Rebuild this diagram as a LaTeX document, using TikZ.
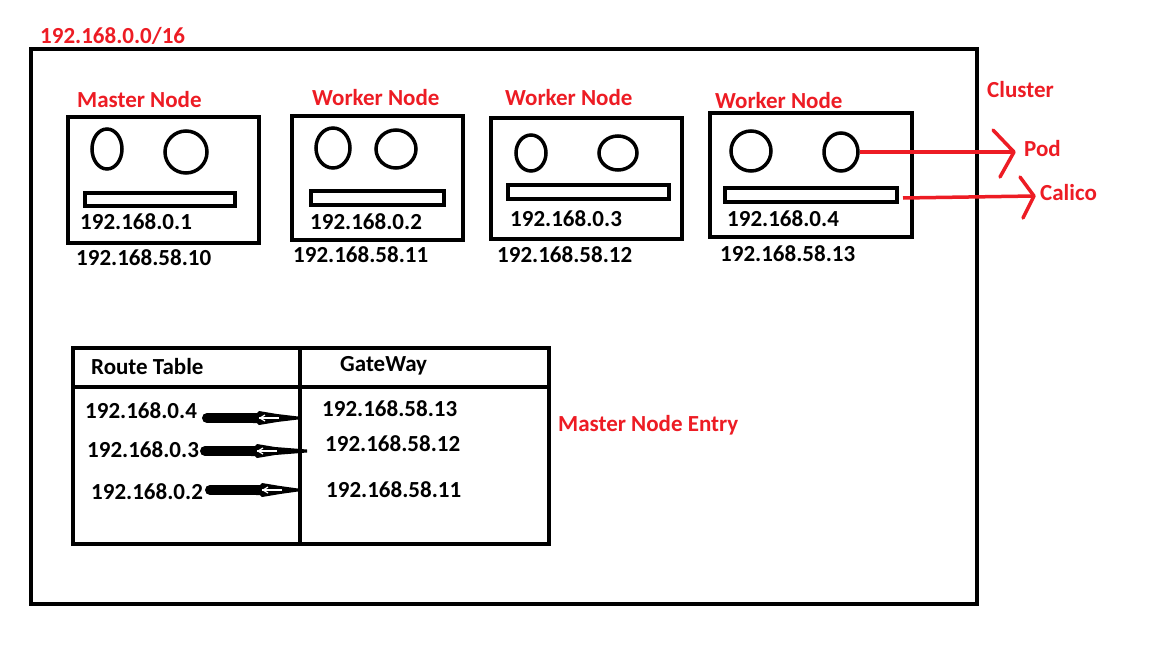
\documentclass[tikz,border=0pt]{standalone}
\usepackage{fontspec}
\setmainfont{Carlito}
\definecolor{paintred}{HTML}{ED1C24}
\begin{document}
\begin{tikzpicture}[x=1pt,y=-1pt,
  lbl/.style={anchor=west,inner sep=0pt,font=\fontsize{23}{27}\selectfont\bfseries},
  rlbl/.style={lbl,text=paintred},
  box/.style={draw,line width=4pt},
  pod/.style={draw,line width=3.5pt},
  bar/.style={draw,line width=3.5pt},
  redline/.style={draw=paintred,line width=3.5pt},
  redhead/.style={draw=paintred,line width=3.5pt,line cap=round,line join=round}]
\useasboundingbox (0,0) rectangle (1152,648);
\fill[white] (0,0) rectangle (1152,648);
% cluster
\draw[box] (31,49) rectangle (977,604);
\node[rlbl] (net) at (40,36) {192.168.0.0/16};
\node[rlbl] (cl) at (987,90) {Cluster};
% master node
\node[rlbl] (mnl) at (77,100) {Master Node};
\draw[box] (68,117) rectangle (259,243);
\draw[pod] (107,149) ellipse (15 and 20);
\draw[pod] (186,152) ellipse (21 and 21);
\draw[bar] (85,193) rectangle (235,206);
\node[lbl] (m1) at (80,222) {192.168.0.1};
\node[lbl] (m2) at (76,258) {192.168.58.10};
% worker 1
\node[rlbl] (w1l) at (312,98) {Worker Node};
\draw[box] (292,116) rectangle (463,240);
\draw[pod] (333,148) ellipse (17 and 20);
\draw[pod] (396,149) ellipse (20 and 19);
\draw[bar] (311,191) rectangle (444,205);
\node[lbl] (w1a) at (310,222) {192.168.0.2};
\node[lbl] (w1b) at (293,255) {192.168.58.11};
% worker 2
\node[rlbl] (w2l) at (505,98) {Worker Node};
\draw[box] (491,118) rectangle (682,239);
\draw[pod] (531,153) ellipse (15 and 18);
\draw[pod] (618,153) ellipse (19 and 17);
\draw[bar] (508,185) rectangle (669,199);
\node[lbl] (w2a) at (510,219) {192.168.0.3};
\node[lbl] (w2b) at (497,255) {192.168.58.12};
% worker 3
\node[rlbl] (w3l) at (715,101) {Worker Node};
\draw[box] (710,113) rectangle (912,237);
\draw[pod] (751,151) ellipse (20 and 20);
\draw[pod] (841,152) ellipse (17 and 19);
\coordinate (podr) at (860,152);
\draw[bar] (725,188) rectangle (897,202);
\coordinate (barr) at (903,198);
\node[lbl] (w3a) at (727,219) {192.168.0.4};
\node[lbl] (w3b) at (720,254) {192.168.58.13};
% red arrows
\node[rlbl] (pod) at (1024,149) {Pod};
\node[rlbl] (cal) at (1040,193) {Calico};
\coordinate (podtip) at (1014,152);
\coordinate (caltip) at (1034,196);
\draw[redline] (podr) -- (podtip);
\draw[redhead] (993,130) -- (podtip) -- (1000,177);
\draw[redline] (barr) -- (caltip);
\draw[redhead] (1020,177) -- (caltip) -- (1023,218);
% route table
\draw[box] (73,348) rectangle (549,544);
\draw[box] (300,348) -- (300,544);
\draw[box] (73,387) -- (551,387);
\node[lbl] (rt) at (91,367) {Route Table};
\node[lbl] (gw) at (340,366) {GateWay};
\node[lbl] (r1) at (85,411) {192.168.0.4};
\node[lbl] (g1) at (322,409) {192.168.58.13};
\node[lbl] (r2) at (87,450) {192.168.0.3};
\node[lbl] (g2) at (325,444) {192.168.58.12};
\node[lbl] (r3) at (91,492) {192.168.0.2};
\node[lbl] (g3) at (326,490) {192.168.58.11};
\foreach \xs/\xe/\yy in {207/298/418, 205/307/451, 210/298/490}{
  \draw[line width=10pt,line cap=round] (\xs,\yy) -- (\xs+48,\yy);
  \fill[line join=round] (\xs+46,\yy-5) -- (\xs+50,\yy-5) -- (\xs+52,\yy-7) -- (\xs+70,\yy-4) -- (\xe,\yy-1.5) -- (\xe,\yy+1.5) -- (\xs+70,\yy+4) -- (\xs+52,\yy+7) -- (\xs+50,\yy+5) -- (\xs+46,\yy+5) -- cycle;
  \draw[white,line width=1.2pt] (\xs+52,\yy) -- (\xs+72,\yy);
  \draw[white,line width=1.2pt] (\xs+58,\yy-3) -- (\xs+53,\yy) -- (\xs+58,\yy+3);
}
\node[rlbl] (mne) at (558,425) {Master Node Entry};
\end{tikzpicture}
\end{document}
